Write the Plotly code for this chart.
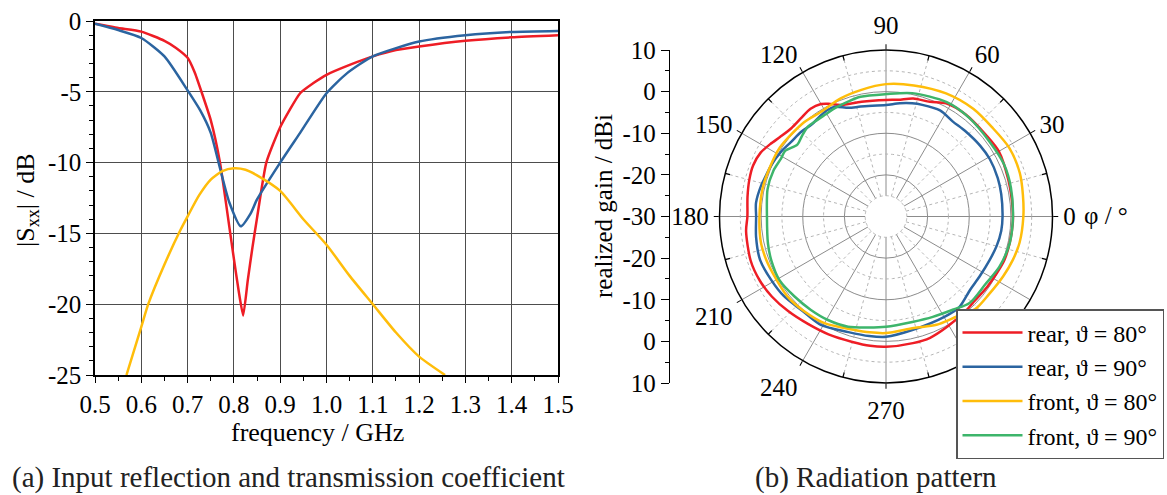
import numpy as np
import plotly.graph_objects as go

# ---------------- (a) S-parameters over frequency ----------------
freq_s11 = [0.50, 0.55, 0.60, 0.65, 0.675, 0.70, 0.715, 0.73, 0.75, 0.77, 0.79, 0.80, 0.81,
            0.82, 0.83, 0.84, 0.85, 0.87, 0.90, 0.943, 0.971, 1.00, 1.05, 1.10,
            1.15, 1.20, 1.30, 1.40, 1.50]
s11_db = [-0.2, -0.5, -0.75, -1.4, -1.9, -2.6, -3.6, -5.0, -7.0, -10.0, -14.5, -16.8, -19.0,
          -20.8, -18.3, -16.0, -13.9, -10.0, -7.5, -5.1, -4.4, -3.8, -3.1, -2.5,
          -2.05, -1.8, -1.4, -1.15, -1.0]

freq_s22 = [0.50, 0.55, 0.60, 0.65, 0.70, 0.727, 0.75, 0.77, 0.79, 0.815, 0.836, 0.85,
            0.90, 0.943, 1.00, 1.044, 1.10, 1.20, 1.30, 1.40, 1.50]
s22_db = [-0.2, -0.64, -1.2, -2.5, -4.9, -6.3, -7.9, -10.4, -12.8, -14.5, -13.6, -12.6,
          -10.0, -7.9, -5.1, -3.7, -2.5, -1.45, -1.0, -0.77, -0.7]

freq_s21 = [0.568, 0.60, 0.615, 0.65, 0.684, 0.70, 0.725, 0.75, 0.775, 0.80, 0.825, 0.85,
            0.90, 0.95, 1.00, 1.05, 1.10, 1.15, 1.20, 1.256]
s21_db = [-25.0, -21.6, -20.0, -17.2, -14.8, -13.8, -12.3, -11.2, -10.6, -10.4, -10.5, -10.9,
          -12.0, -14.0, -15.8, -18.0, -20.0, -22.0, -23.7, -25.0]

freq_ticks = [0.5, 0.6, 0.7, 0.8, 0.9, 1.0, 1.1, 1.2, 1.3, 1.4, 1.5]
freq_labels = ["0.5", "0.6", "0.7", "0.8", "0.9", "1.0", "1.1", "1.2", "1.3", "1.4", "1.5"]
s_ticks = [0, -5, -10, -15, -20, -25]
s_labels = ["0", "-5", "-10", "-15", "-20", "-25"]

# ---------------- (b) radiation pattern (phi in deg, gain in dBi) ----------------
phi_rear80 = [0, 7, 17, 30, 39, 52, 62, 69, 77, 84, 90, 102, 112, 117, 120, 125, 131, 137,
              143, 148, 153, 159, 165, 172, 180, 186, 198, 207, 215, 224, 234, 244, 255,
              263, 270, 282, 290, 299, 310, 316, 325, 333, 340, 348, 357, 360]
gain_rear80 = [0.5, 0.5, 0.7, 1.3, 1.0, 1.1, 0.8, -0.5, -0.9, -1.8, -2.0, -1.8, -1.1, 0.4,
               1.2, 1.6, 1.2, 1.1, 1.8, 2.8, 3.8, 4.2, 4.0, 3.6, 3.3, 3.8, 4.2, 4.0, 3.5,
               2.7, 1.9, 1.5, 1.2, 1.3, 1.3, 1.1, 1.0, 0.3, -0.3, -0.6, -0.4, -0.1, 0.3,
               0.4, 0.5, 0.5]

phi_rear90 = [0, 11, 19, 29, 37, 47, 55, 63, 72, 77, 83, 90, 103, 109, 115, 119, 123, 129,
              135, 142, 148, 156, 163, 166, 174, 180, 189, 199, 209, 218, 228, 239, 252,
              262, 270, 283, 301, 309, 319, 327, 337, 345, 353, 360]
gain_rear90 = [-2.0, -1.8, -1.6, -1.5, -1.7, -2.0, -2.1, -1.4, -1.8, -2.1, -2.6, -3.2,
               -2.9, -2.4, -0.9, -0.8, -1.1, -1.6, -1.2, -1.0, -0.4, 0.2, 0.6, 0.9, 1.4,
               1.2, 1.6, 2.0, 1.5, 1.1, 0.3, 0.4, -0.8, -1.0, -1.1, -2.0, -2.1, -2.0,
               -3.2, -3.3, -3.0, -2.5, -2.1, -2.0]

phi_front80 = [0, 9, 18, 29, 40, 51, 64, 78, 90, 101, 111, 122, 131, 147, 158, 167, 180,
               192, 200, 208, 219, 229, 240, 254, 262, 270, 284, 295, 305, 314, 323, 333,
               341, 349, 360]
gain_front80 = [3.0, 3.3, 3.8, 3.9, 3.3, 3.3, 2.9, 2.2, 1.8, 1.0, 0.4, -0.4, 0.0, 0.4, 0.3,
                0.4, 0.4, 0.7, 0.6, 0.4, 0.5, 0.1, -0.4, -1.7, -1.9, -2.0, -2.4, -1.3,
                -0.6, 0.9, 1.0, 1.6, 2.2, 2.7, 3.0]

phi_front90 = [0, 13, 24, 36, 50, 62, 78, 90, 102, 108, 115, 121, 127, 131, 136, 141, 147,
               151, 158, 167, 180, 193, 201, 211, 221, 231, 241, 251, 261, 270, 284, 295,
               306, 314, 326, 336, 348, 360]
gain_front90 = [0.5, 0.8, 1.0, 0.7, 1.0, 1.1, 0.3, -0.6, -0.6, -0.9, -1.2, -1.5, -1.5,
                -1.4, -2.0, -2.6, -1.1, -1.2, -0.8, -0.8, -1.4, -0.9, -0.5, -0.2, -0.8,
                -1.2, -1.5, -2.0, -3.0, -3.5, -3.9, -3.4, -2.4, -1.1, -1.1, -0.2, 0.4, 0.5]

phi_ticks = [0, 30, 60, 90, 120, 150, 180, 210, 240, 270]
phi_labels = ["0", "30", "60", "90", "120", "150", "180", "210", "240", "270"]
phi_unlabelled = [300, 330]
gain_scale_pos = [-40, -30, -20, -10, 0, 10, 20, 30, 40]
gain_scale_labels = ["10", "0", "-10", "-20", "-30", "-20", "-10", "0", "10"]

RED, BLUE, YELLOW, GREEN = "#ee1d25", "#2b64a0", "#ffbd0a", "#3db56b"
FONT = "Liberation Serif, Times New Roman, serif"
W, H = 1167, 495


def px(x):
    return x / W


def py(y):
    return 1 - y / H


fig = go.Figure()

# ---- left panel curves ----
fig.add_trace(go.Scatter(x=freq_s11, y=s11_db, mode="lines",
                         line=dict(color=RED, width=2.5, shape="spline", smoothing=0.5),
                         showlegend=False, xaxis="x", yaxis="y"))
fig.add_trace(go.Scatter(x=freq_s22, y=s22_db, mode="lines",
                         line=dict(color=BLUE, width=2.5, shape="spline", smoothing=0.6),
                         showlegend=False, xaxis="x", yaxis="y"))
fig.add_trace(go.Scatter(x=freq_s21, y=s21_db, mode="lines",
                         line=dict(color=YELLOW, width=2.5, shape="spline", smoothing=0.6),
                         showlegend=False, xaxis="x", yaxis="y"))

# ---- scale bar for realized gain ----
fig.add_trace(go.Scatter(x=[None], y=[None], xaxis="x2", yaxis="y2", showlegend=False,
                         hoverinfo="skip"))

# ---- polar grid extras: white centre disc, dotted circles and spokes, ticks ----
ring_theta = np.linspace(0, 360, 181)
fig.add_trace(go.Scatterpolar(r=[-25] * len(ring_theta), theta=ring_theta, mode="lines",
                              fill="toself", fillcolor="white",
                              line=dict(color="#b5b5b5", width=1, dash="dot"),
                              hoverinfo="skip", showlegend=False))
for rv in [-15, -5, 5]:
    fig.add_trace(go.Scatterpolar(r=[rv] * len(ring_theta), theta=ring_theta, mode="lines",
                                  line=dict(color="#b5b5b5", width=1, dash="dot"),
                                  hoverinfo="skip", showlegend=False))
minor_phi = [15 + 30 * k for k in range(12)]
spoke_r, spoke_t, tick_r, tick_t = [], [], [], []
for a in minor_phi:
    spoke_r += [-25, 10, None]
    spoke_t += [a, a, None]
    tick_r += [8.8, 10, None]
    tick_t += [a, a, None]
fig.add_trace(go.Scatterpolar(r=spoke_r, theta=spoke_t, mode="lines",
                              line=dict(color="#b5b5b5", width=1, dash="dot"),
                              hoverinfo="skip", showlegend=False))
fig.add_trace(go.Scatterpolar(r=tick_r, theta=tick_t, mode="lines",
                              line=dict(color="black", width=1.2),
                              hoverinfo="skip", showlegend=False))
solid_r, solid_t = [], []
for a in phi_unlabelled:
    solid_r += [-25, 10, None]
    solid_t += [a, a, None]
fig.add_trace(go.Scatterpolar(r=solid_r, theta=solid_t, mode="lines",
                              line=dict(color="#8c8c8c", width=1),
                              hoverinfo="skip", showlegend=False))

# ---- radiation pattern curves ----
pattern = [
    ("rear, ϑ = 80°", phi_rear80, gain_rear80, RED),
    ("rear, ϑ = 90°", phi_rear90, gain_rear90, BLUE),
    ("front, ϑ = 80°", phi_front80, gain_front80, YELLOW),
    ("front, ϑ = 90°", phi_front90, gain_front90, GREEN),
]
for name, th, g, c in pattern:
    fig.add_trace(go.Scatterpolar(r=g, theta=th, mode="lines", name=name,
                                  line=dict(color=c, width=2.5, shape="spline", smoothing=0.8)))

tickfont = dict(family=FONT, size=25, color="black")

fig.update_layout(
    width=W, height=H,
    margin=dict(l=0, r=0, t=0, b=0, autoexpand=False),
    paper_bgcolor="white", plot_bgcolor="white",
    font=dict(family=FONT, size=25, color="black"),
    xaxis=dict(domain=[px(95), px(558)], range=[0.5, 1.5], anchor="y", automargin=False,
               tickvals=freq_ticks, ticktext=freq_labels, tickfont=tickfont,
               showgrid=True, gridcolor="#4d4d4d", gridwidth=1.3,
               showline=True, linecolor="black", linewidth=1.5, mirror=True,
               ticks="outside", ticklen=6, tickcolor="black", tickwidth=1.2,
               minor=dict(dtick=0.05, ticks="outside", ticklen=4, tickcolor="black", showgrid=False),
               zeroline=False),
    yaxis=dict(domain=[py(375), py(21)], range=[-25, 0], anchor="x", automargin=False,
               tickvals=s_ticks, ticktext=s_labels, tickfont=tickfont,
               showgrid=True, gridcolor="#4d4d4d", gridwidth=1.3,
               showline=True, linecolor="black", linewidth=1.5, mirror=True,
               ticks="outside", ticklen=7, tickcolor="black", tickwidth=1.2,
               minor=dict(dtick=1, ticks="outside", ticklen=4, tickcolor="black", showgrid=False),
               zeroline=False),
    xaxis2=dict(domain=[px(670), px(671)], range=[0, 1], anchor="y2", visible=False,
                automargin=False),
    yaxis2=dict(domain=[py(383), py(50)], range=[-40, 40], anchor="x2", side="left",
                automargin=False,
                tickvals=gain_scale_pos, ticktext=gain_scale_labels, tickfont=tickfont,
                showgrid=False, zeroline=False,
                showline=True, linecolor="black", linewidth=1.3,
                ticks="outside", ticklen=8, tickcolor="black", tickwidth=1.2,
                minor=dict(tickvals=[-35, -25, -15, -5, 5, 15, 25, 35], ticks="outside",
                           ticklen=4, tickcolor="black", showgrid=False)),
    polar=dict(
        domain=dict(x=[px(719), px(1053)], y=[py(383), py(50)]),
        hole=0, bgcolor="white",
        radialaxis=dict(range=[-30, 10], tickvals=[-20, -10, 0], showticklabels=False,
                        ticks="", showline=False, gridcolor="#8c8c8c", gridwidth=1),
        angularaxis=dict(rotation=0, direction="counterclockwise",
                         tickvals=phi_ticks, ticktext=phi_labels, tickfont=tickfont,
                         ticks="outside", ticklen=5, tickcolor="black",
                         showline=True, linecolor="black", linewidth=1.5,
                         gridcolor="#8c8c8c", gridwidth=1),
    ),
    legend=dict(x=px(956), y=py(309), xanchor="left", yanchor="top",
                bgcolor="white", bordercolor="#555555", borderwidth=1.5,
                font=dict(family=FONT, size=24, color="black"),
                itemwidth=60, tracegroupgap=0),
)

annotations = [
    dict(text="|S<sub>xx</sub>| / dB", x=px(27), y=py(200), textangle=-90, font=dict(size=26)),
    dict(text="frequency / GHz", x=px(318), y=py(432), font=dict(size=26)),
    dict(text="(a) Input reflection and transmission coefficient", x=px(288), y=py(477),
         font=dict(size=29, color="#222222")),
    dict(text="(b) Radiation pattern", x=px(876), y=py(477), font=dict(size=29, color="#222222")),
    dict(text="realized gain / dBi", x=px(603), y=py(206), textangle=-90, font=dict(size=25)),
    dict(text="φ / °", x=px(1106), y=py(216), font=dict(size=25)),
]
for a in annotations:
    a.update(xref="paper", yref="paper", showarrow=False, xanchor="center", yanchor="middle")
    a["font"] = dict(family=FONT, color=a["font"].get("color", "black"), size=a["font"]["size"])
fig.update_layout(annotations=annotations)

fig.write_html("out.html")
